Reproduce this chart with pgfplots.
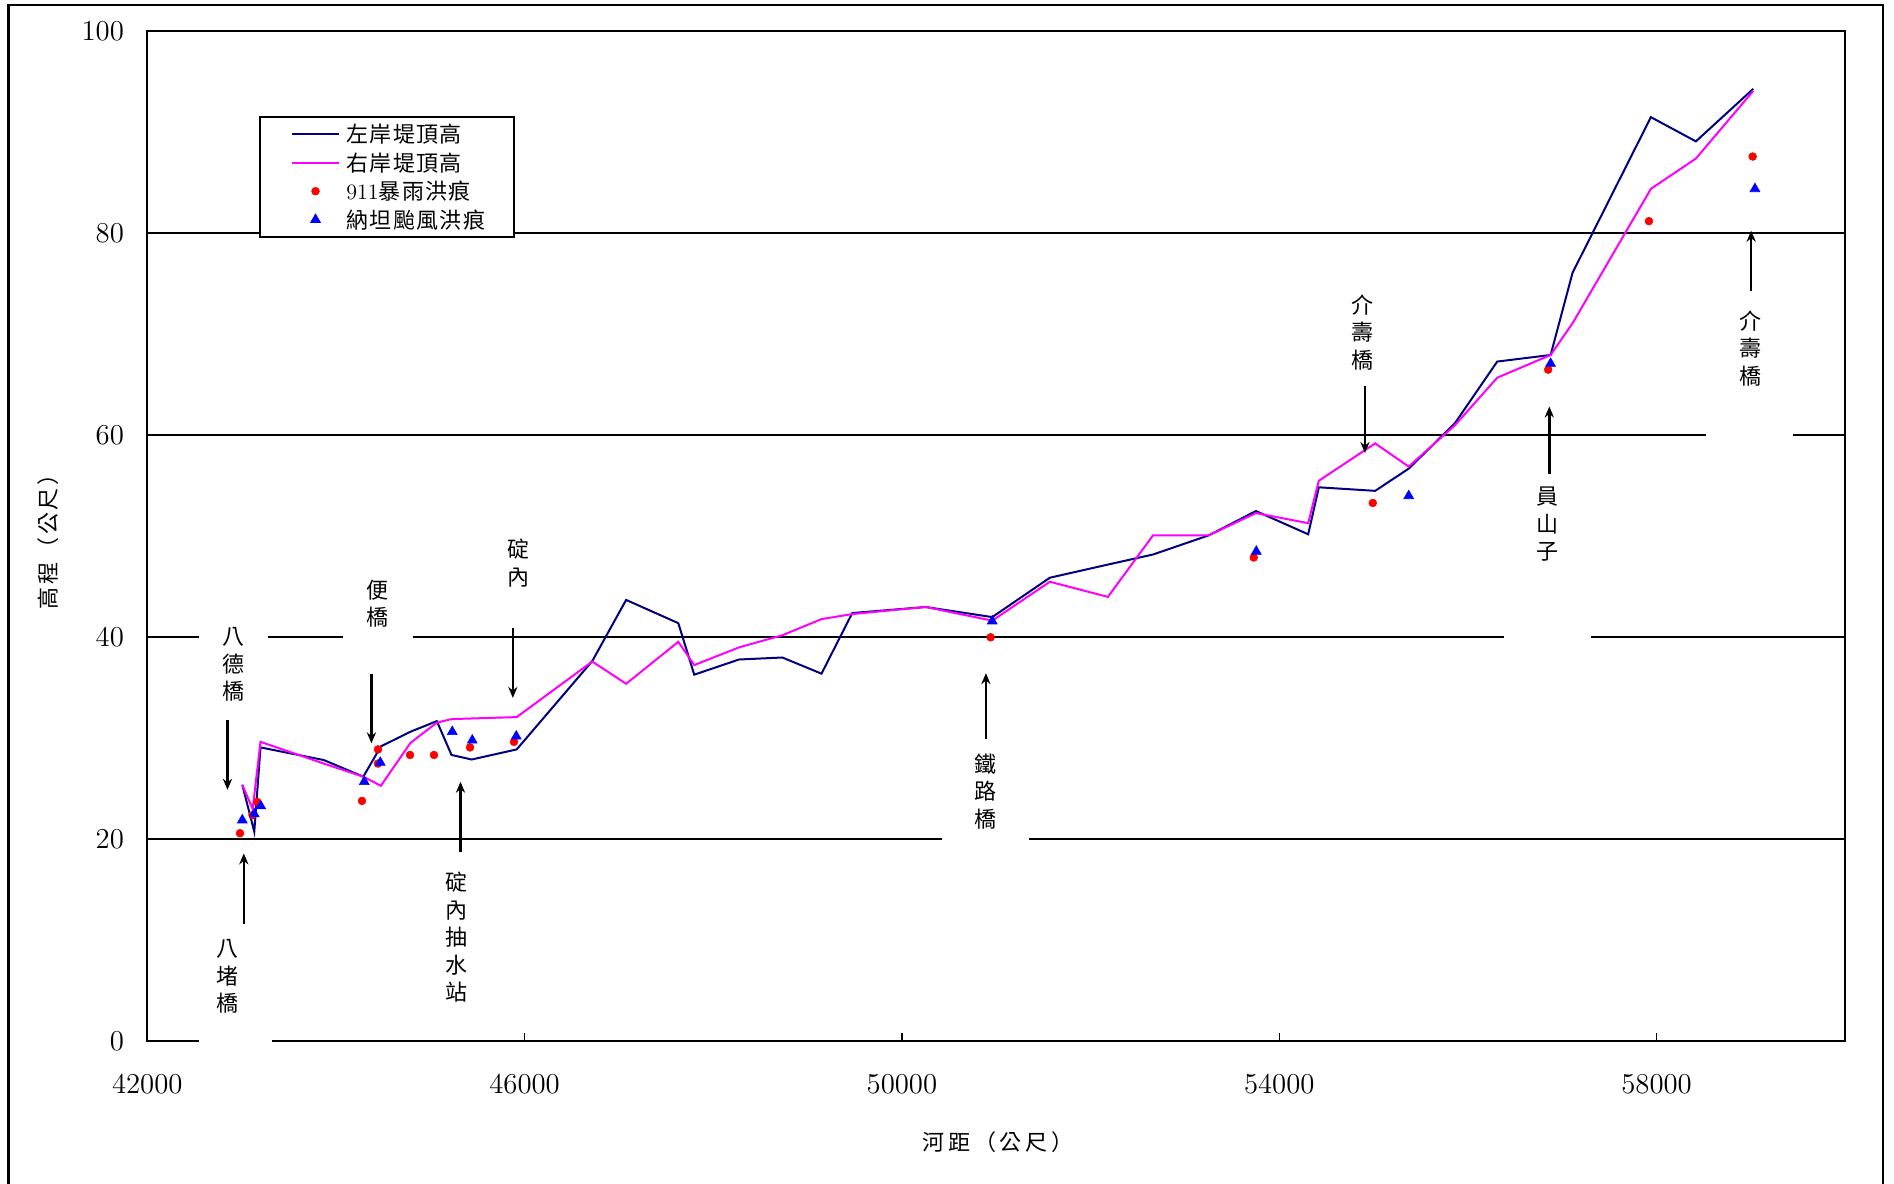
\documentclass[border=0pt]{standalone}
\usepackage{fontspec}
\usepackage{pgfplots}
\pgfplotsset{compat=1.18}
\usetikzlibrary{arrows.meta}
\newfontfamily\cjk{Noto Sans CJK TC}
\definecolor{navyline}{RGB}{0,0,128}
\definecolor{mag}{RGB}{255,0,255}
\pgfplotstableread{
x y
43007 25.4
43134 20.75
43200 29.1
43870 27.85
44290 26.2
44476 29.2
44790 30.65
45069 31.7
45225 28.35
45439 27.9
45916 28.9
46717 37.65
47076 43.7
47629 41.4
47798 36.3
48272 37.8
48731 38.0
49147 36.4
49473 42.4
50251 43.0
50957 42.0
51568 45.9
52183 47.2
52662 48.2
53254 50.1
53752 52.5
54306 50.2
54419 54.85
55016 54.5
55372 56.7
55862 61.2
56310 67.3
56876 67.95
57109 76.1
57939 91.5
58416 89.1
59024 94.3
}\leftbank
\pgfplotstableread{
x y
43007 25.4
43117 23.0
43200 29.65
43870 27.5
44290 26.2
44476 25.3
44790 29.55
45069 31.55
45225 31.9
45916 32.1
46717 37.6
47076 35.4
47629 39.55
47798 37.25
48272 39.0
48731 40.2
49147 41.8
49473 42.3
50251 43.0
50957 41.65
51568 45.5
52183 44.0
52662 50.1
53254 50.1
53752 52.3
54306 51.3
54419 55.5
55016 59.2
55372 56.9
55862 61.0
56310 65.7
56876 67.95
57109 71.1
57939 84.4
58416 87.4
59024 94.1
}\rightbank
\pgfplotstableread{
x y
42983 20.6
43115 22.4
43166 23.7
44276 23.8
44445 28.9
44445 27.5
44785 28.35
45039 28.35
45421 29.1
45887 29.65
50940 40.0
53729 47.9
54991 53.3
56850 66.5
57918 81.2
59018 87.6
}\rainmark
\pgfplotstableread{
x y
43007 21.9
43134 22.5
43202 23.3
44300 25.7
44470 27.6
45233 30.65
45445 29.8
45911 30.2
50957 41.6
53756 48.5
55372 54.0
56876 67.1
59042 84.4
}\typhoonmark
\tikzset{
  ann/.style={font=\cjk\fontsize{11}{13.75}\selectfont, align=center, inner sep=0pt},
  arr/.style={black, line width=1.2pt, -{Stealth[length=5.5pt,width=4.6pt]}}
}
\begin{document}
\begin{tikzpicture}
\begin{axis}[
  name=ax, at={(0,0)}, anchor=south west,
  scale only axis, width=849pt, height=505pt,
  xmin=42000, xmax=60000, ymin=0, ymax=100,
  xtick={42000,46000,50000,54000,58000},
  ytick={0,20,40,60,80,100},
  ymajorgrids, grid style={black, line width=0.85pt},
  axis line style={black, line width=1.15pt},
  tick align=inside, xtick pos=left, ytick style={draw=none},
  xtick style={black, line width=0.8pt}, major tick length=4pt,
  scaled x ticks=false,
  x tick label style={/pgf/number format/1000 sep={}, anchor=center, yshift=-21.3pt, font=\fontsize{14}{16}\selectfont},
  y tick label style={anchor=east, inner sep=0pt, xshift=-11.5pt, font=\fontsize{14}{16}\selectfont},
  xlabel={河距（公尺）},
  xlabel style={at={(axis description cs:0.501,-0.0997)}, anchor=center, font=\cjk\fontsize{11}{13}\selectfont\addfontfeature{LetterSpace=18}},
  ylabel={高程（公尺）},
  ylabel style={at={(axis description cs:-0.0585,0.5)}, anchor=center, font=\cjk\fontsize{11}{13}\selectfont\addfontfeature{LetterSpace=13}},
  clip=false,
  legend cell align=left,
  legend style={at={(axis description cs:0.0655,0.9161)}, anchor=north west,
    draw=black, line width=1pt, fill=white, inner xsep=0pt, inner ysep=1.6pt,
    row sep=0pt, column sep=3.2pt,
    font=\cjk\fontsize{11}{13}\selectfont\addfontfeature{LetterSpace=6},
    nodes={inner sep=0pt, text width=83.8pt, align=left, text height=11.3pt, text depth=2.9pt}},
  legend image code/.code={\path (0pt,0pt); \draw[mark repeat=2,mark phase=2,#1] plot coordinates {(15.75pt,0pt) (27.5pt,0pt) (39.25pt,0pt)};},
]
% gaps behind the annotation boxes
\fill[white] (axis cs:42550,38.8) rectangle (axis cs:43280,41.2);
\fill[white] (axis cs:44074,38.8) rectangle (axis cs:44816,41.2);
\fill[white] (axis cs:56387,38.8) rectangle (axis cs:57309,41.2);
\fill[white] (axis cs:58525,58.8) rectangle (axis cs:59446,61.2);
\fill[white] (axis cs:50422,18.8) rectangle (axis cs:51344,21.2);
\fill[white] (axis cs:42550,-1.2) rectangle (axis cs:43318,1.2);

\addplot[navyline, line width=1pt] table {\leftbank};
\addlegendentry{左岸堤頂高}
\addplot[mag, line width=1pt] table {\rightbank};
\addlegendentry{右岸堤頂高}
\addplot[only marks, mark=*, mark size=1.95pt, red, line width=0.3pt] table {\rainmark};
\addlegendentry{{\normalfont\fontsize{11}{13}\selectfont 911}暴雨洪痕}
\addplot[only marks, mark=triangle*, mark size=2.85pt, blue, line width=0.3pt] table {\typhoonmark};
\addlegendentry{納坦颱風洪痕}

% annotations
\node[ann] at (axis cs:42909,37.3) {八\\德\\橋};
\draw[arr] (axis cs:42850,31.8) -- (axis cs:42850,24.9);
\node[ann] at (axis cs:42845,6.4) {八\\堵\\橋};
\draw[arr] (axis cs:43023,11.6) -- (axis cs:43023,18.6);
\node[ann] at (axis cs:44445,43.35) {便\\橋};
\draw[arr] (axis cs:44376,36.4) -- (axis cs:44376,29.5);
\node[ann] at (axis cs:45930,47.35) {碇\\內};
\draw[arr] (axis cs:45875,40.9) -- (axis cs:45875,34.0);
\node[ann] at (axis cs:45277,10.3) {碇\\內\\抽\\水\\站};
\draw[arr] (axis cs:45320,18.7) -- (axis cs:45320,25.7);
\node[ann] at (axis cs:50883,24.75) {鐵\\路\\橋};
\draw[arr] (axis cs:50890,29.9) -- (axis cs:50890,36.45);
\node[ann] at (axis cs:54877,70.2) {介\\壽\\橋};
\draw[arr] (axis cs:54908,64.9) -- (axis cs:54908,58.25);
\node[ann] at (axis cs:56845,51.2) {員\\山\\子};
\draw[arr] (axis cs:56862,56.15) -- (axis cs:56862,62.85);
\node[ann] at (axis cs:58996,68.6) {介\\壽\\橋};
\draw[arr] (axis cs:59002,74.25) -- (axis cs:59002,80.25);
\end{axis}
\draw[black, line width=1.25pt] (-69.45pt,-80pt) rectangle (867.85pt,518.15pt);
\pgfresetboundingbox
\useasboundingbox (-73.65pt,-70.85pt) rectangle (873.35pt,520.65pt);
\end{tikzpicture}
\end{document}
